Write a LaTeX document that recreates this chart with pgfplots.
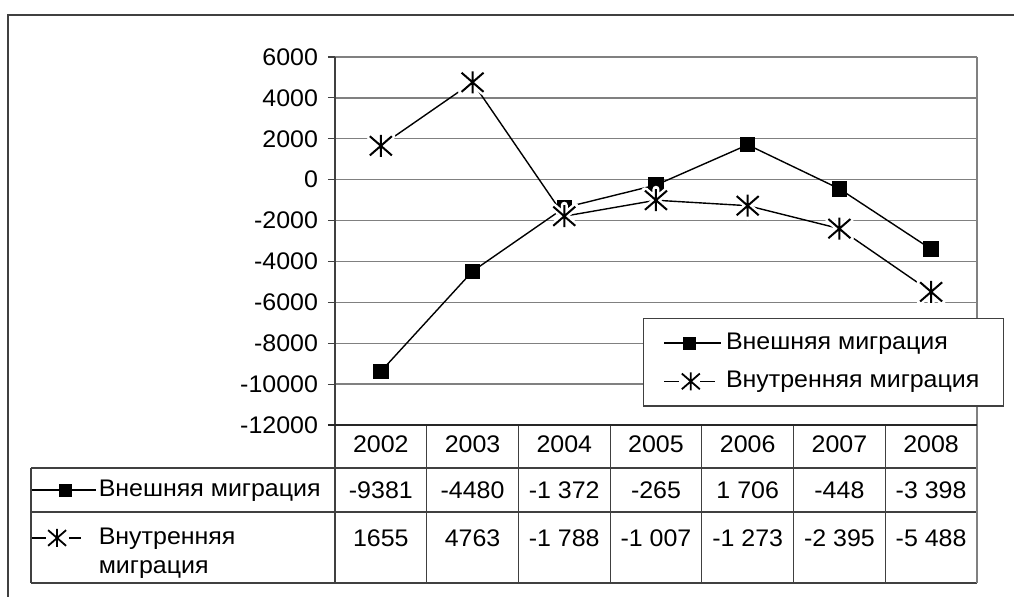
\documentclass[border=0pt]{standalone}
\usepackage{pgfplots}
\pgfplotsset{compat=1.18}
\usepackage{fontspec}
\setmainfont{Liberation Sans}[FakeStretch=1.04]
\definecolor{gridgray}{HTML}{808080}
\definecolor{linegray}{HTML}{404040}
\newcommand\fs{\fontsize{12}{14.5}\selectfont}

\pgfdeclareplotmark{xstar}{%
  \pgfpathmoveto{\pgfqpoint{0pt}{\pgfplotmarksize}}%
  \pgfpathlineto{\pgfqpoint{0pt}{-\pgfplotmarksize}}%
  \pgfpathmoveto{\pgfqpoint{-\pgfplotmarksize}{-0.87\pgfplotmarksize}}%
  \pgfpathlineto{\pgfqpoint{\pgfplotmarksize}{0.87\pgfplotmarksize}}%
  \pgfpathmoveto{\pgfqpoint{-\pgfplotmarksize}{0.87\pgfplotmarksize}}%
  \pgfpathlineto{\pgfqpoint{\pgfplotmarksize}{-0.87\pgfplotmarksize}}%
  \pgfusepathqstroke}

\begin{document}
\begin{tikzpicture}[font=\fs]
\useasboundingbox (0,0) rectangle (507pt,-298.5pt);
% frame and table grid (pixel units)
\begin{scope}[x=0.5pt,y=-0.5pt]
  \draw[linegray, line width=0.75pt] (8,597) -- (8,15) -- (1014,15);
  \draw[linegray, line width=0.6pt] (31,468) -- (977,468) (31,512) -- (977,512) (31,583) -- (977,583) (31,468) -- (31,583);
  \foreach \k in {1,...,6} \draw[linegray, line width=0.6pt] ({335+\k*91.714},425) -- ({335+\k*91.714},583);
  \draw[gridgray, line width=0.75pt] (977,57) -- (977,583);
\end{scope}

\begin{axis}[
  at={(167.5pt,-212.5pt)}, anchor=south west,
  scale only axis, width=321pt, height=184pt,
  xmin=-0.5, xmax=6.5, ymin=-12000, ymax=6000,
  scaled y ticks=false,
  xtick={0,1,2,3,4,5,6},
  xticklabels={2002,2003,2004,2005,2006,2007,2008},
  ytick={-12000,-10000,-8000,-6000,-4000,-2000,0,2000,4000,6000},
  yticklabels={-12000,-10000,-8000,-6000,-4000,-2000,0,2000,4000,6000},
  tick align=outside, tick pos=left,
  major tick length=3.5pt,
  x tick style={draw=none},
  y tick style={linegray, line width=0.6pt},
  ymajorgrids, grid style={gridgray, line width=0.7pt},
  axis line style={draw=none},
  tick label style={font=\fs},
  xticklabel style={anchor=center, yshift=-6.25pt},
  yticklabel style={anchor=east, xshift=-1.5pt},
  clip=false,
  legend cell align=left,
  legend style={at={(0.4798,0.2908)}, anchor=north west, draw=linegray, line width=0.6pt, fill=white,
    inner xsep=10pt, inner ysep=4.5pt, row sep=3.5pt, font=\fs,
    nodes={inner sep=2pt, text height=9pt, text depth=2.6pt}},
]
\addplot[black, line width=0.7pt, mark=square*, mark size=3.5pt, forget plot]
  coordinates {(0,-9381)(1,-4480)(2,-1372)(3,-265)(4,1706)(5,-448)(6,-3398)};
\addplot[black, line width=0.7pt, forget plot]
  coordinates {(0,1655)(1,4763)(2,-1788)(3,-1007)(4,-1273)(5,-2395)(6,-5488)};
\addplot[white, only marks, mark=xstar, mark size=5.5pt, line width=3.5pt, line cap=round, forget plot]
  coordinates {(0,1655)(1,4763)(2,-1788)(3,-1007)(4,-1273)(5,-2395)(6,-5488)};
\addplot[black, only marks, mark=xstar, mark size=5.5pt, line width=1pt, forget plot]
  coordinates {(0,1655)(1,4763)(2,-1788)(3,-1007)(4,-1273)(5,-2395)(6,-5488)};

\addlegendimage{legend image code/.code={
  \draw[black, line width=0.7pt] (0pt,0pt) -- (28.5pt,0pt);
  \draw[black, mark=square*, mark size=3pt] plot coordinates {(12.75pt,0pt)};}}
\addlegendentry{Внешняя миграция}
\addlegendimage{legend image code/.code={
  \draw[black, line width=0.7pt] (0pt,0pt) -- (7.5pt,0pt) (18pt,0pt) -- (25.5pt,0pt);
  \draw[black, line width=0.9pt, mark=xstar, mark size=4.5pt] plot coordinates {(13.25pt,0pt)};
  \path (28.5pt,0pt);}}
\addlegendentry{Внутренняя миграция}

% data table values
\node at ([yshift=-32.5pt]axis cs:0,-12000) {-9381};
\node at ([yshift=-32.5pt]axis cs:1,-12000) {-4480};
\node at ([yshift=-32.5pt]axis cs:2,-12000) {-1 372};
\node at ([yshift=-32.5pt]axis cs:3,-12000) {-265};
\node at ([yshift=-32.5pt]axis cs:4,-12000) {1 706};
\node at ([yshift=-32.5pt]axis cs:5,-12000) {-448};
\node at ([yshift=-32.5pt]axis cs:6,-12000) {-3 398};
\node at ([yshift=-56.5pt]axis cs:0,-12000) {1655};
\node at ([yshift=-56.5pt]axis cs:1,-12000) {4763};
\node at ([yshift=-56.5pt]axis cs:2,-12000) {-1 788};
\node at ([yshift=-56.5pt]axis cs:3,-12000) {-1 007};
\node at ([yshift=-56.5pt]axis cs:4,-12000) {-1 273};
\node at ([yshift=-56.5pt]axis cs:5,-12000) {-2 395};
\node at ([yshift=-56.5pt]axis cs:6,-12000) {-5 488};
\end{axis}

% legend keys of the data table
\begin{axis}[
  at={(15.5pt,-234pt)}, anchor=north west,
  scale only axis, width=1pt, height=1pt, hide axis,
  xmin=0, xmax=1, ymin=0, ymax=1,
  legend cell align=left,
  legend style={at={(0,1)}, anchor=north west, draw=none, fill=none,
    inner xsep=0pt, inner ysep=4pt, row sep=10.4pt, font=\fs,
    nodes={inner sep=1pt, text height=9pt, text depth=2.6pt}},
]
\addlegendimage{legend image code/.code={
  \draw[black, line width=0.7pt] (0pt,0pt) -- (32pt,0pt);
  \draw[black, mark=square*, mark size=3pt] plot coordinates {(16.5pt,0pt)};}}
\addlegendentry{Внешняя миграция}
\addlegendimage{legend image code/.code={
  \draw[black, line width=0.7pt] (0pt,0pt) -- (7pt,0pt) (18.5pt,0pt) -- (24.5pt,0pt);
  \draw[black, line width=0.9pt, mark=xstar, mark size=4.5pt] plot coordinates {(12.5pt,0pt)};
  \path (32pt,0pt);}}
\addlegendentry{\smash{\parbox[t]{4cm}{Внутренняя\\миграция}}}
\end{axis}

\begin{scope}[x=0.5pt,y=-0.5pt]
  \draw[linegray, line width=0.75pt] (335,57) -- (335,583);
  \draw[black!85, line width=1pt] (328,425) -- (977,425);
\end{scope}
\end{tikzpicture}
\end{document}
